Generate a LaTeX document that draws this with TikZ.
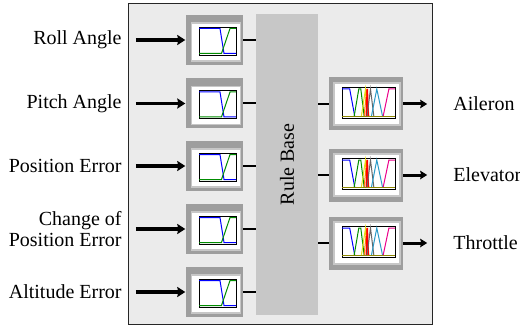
\documentclass[tikz,border=0pt]{standalone}
\usepackage{fontspec}
\setmainfont{Liberation Serif}
\usetikzlibrary{arrows.meta,positioning}

\begin{document}
\begin{tikzpicture}[x=1pt,y=-1pt,
    every node/.style={font=\fontsize{20}{21}\selectfont},
    panel/.style={draw=black!85,line width=1pt,fill=black!8,minimum width=304pt,minimum height=321pt,inner sep=0},
    rulebase/.style={fill=black!22,minimum width=62pt,minimum height=301pt,inner sep=0},
    mfin/.style={fill=black!38,minimum width=57pt,minimum height=50pt,inner sep=0},
    mfout/.style={fill=black!38,minimum width=74pt,minimum height=53pt,inner sep=0},
    inlab/.style={anchor=east,align=right,inner sep=0},
    outlab/.style={anchor=west,inner sep=0},
    sig/.style={line width=3.6pt,-{Stealth[length=8pt,width=10pt,inset=1pt]}},
    sigout/.style={line width=3pt,-{Stealth[length=7pt,width=8.5pt,inset=1pt]}},
    link/.style={line width=2pt},
    mf/.style={line width=1pt}]
    \useasboundingbox (0,0) rectangle (520,329);

    \node[panel] (panel) at (280.75,164.25) {};
    \node[rulebase,label={[rotate=90]center:Rule Base}] (rb) at (287,164.5) {};

    % input membership functions
    \foreach \i/\y/\t in {1/40/Roll Angle,2/103.5/Pitch Angle,3/166/Position Error,
                          4/229/{Change of\\Position Error},5/292/Altitude Error}{
      \node[mfin] (in\i) at (214.5,\y) {};
      \begin{scope}[shift={(in\i.center)}]
        \fill[white,draw=black!22,line width=1.5pt] (-23,-17) rectangle (26,21);
        \draw[line width=0.8pt] (-15.5,-13) rectangle (21.5,15);
        \draw[blue,mf] (-15.5,-11.5) -- (5.5,-11.5) -- (9.5,13.5) -- (21.5,13.5);
        \draw[green!55!black,mf] (-15.5,13.5) -- (7,13.5) -- (15.5,-11.5) -- (21.5,-11.5);
      \end{scope}
      \node[inlab] (lab\i) at ([xshift=-64pt]in\i.west) {\t};
      \draw[sig] ([xshift=14pt]lab\i.east) -- ([xshift=-0.5pt]in\i.west);
      \draw[link] (in\i.east) -- (in\i.east -| rb.west);
    }

    % output membership functions
    \foreach \i/\y/\t in {1/104/Aileron,2/175/Elevator,3/243/Throttle}{
      \node[mfout] (out\i) at (366,\y) {};
      \begin{scope}[shift={(out\i.center)}]
        \fill[white,draw=black!22,line width=1.5pt] (-32,-21) rectangle (34,21);
        \draw[line width=0.8pt] (-24,-17) rectangle (29,14);
        \draw[olive,line width=1.5pt] (-24,12.5) -- (29,12.5);
        \draw[blue,mf] (-24,-15) -- (-16.3,-15) -- (-11.3,12);
        \draw[green!55!black,mf] (-11.8,12) -- (-7.2,-15) -- (-5.2,-15) -- (-1.9,12);
        \draw[yellow!90!black,mf] (-4.6,12) -- (-0.5,-15) -- (1.5,12);
        \draw[orange,mf] (-1.9,12) -- (0.8,-15) -- (2.8,12);
        \draw[red,line width=1.5pt] (0.3,12) -- (1.3,-15) -- (2.3,12);
        \draw[black!60,mf] (1.1,12) -- (4.5,-15) -- (7.8,12);
        \draw[cyan!80!black,mf] (5.5,12) -- (10.8,-15) -- (16.5,12);
        \draw[magenta,mf] (17.2,12) -- (22.9,-15) -- (29,-15);
      \end{scope}
      \node[outlab,right=50pt of out\i] (o\i) {\t};
      \draw[link] (out\i.west -| rb.east) -- (out\i.west);
      \draw[sigout] (out\i.east) -- ([xshift=-26pt]o\i.west);
    }
\end{tikzpicture}
\end{document}
